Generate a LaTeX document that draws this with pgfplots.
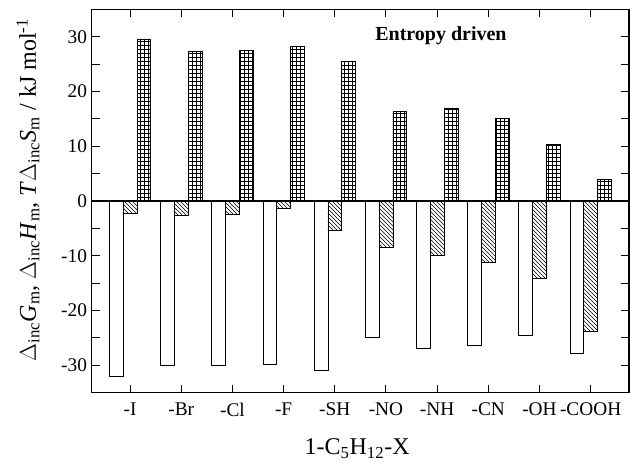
\documentclass[border=0pt]{standalone}
\usepackage{fontspec}
\setmainfont{Liberation Serif}
\usepackage{pgfplots}
\pgfplotsset{compat=1.18}
\usetikzlibrary{patterns}

\pgfplotstableread{
x   G      H      TS
1   -32.0  -2.2   29.6
2   -30.0  -2.6   27.3
3   -30.0  -2.5   27.5
4   -29.8  -1.4   28.2
5   -31.0  -5.4   25.5
6   -24.9  -8.5   16.3
7   -26.9  -10.0  17.0
8   -26.4  -11.2  15.1
9   -24.5  -14.1  10.3
10  -27.9  -23.8  3.9
}\thermo

\begin{document}
\begin{tikzpicture}
\begin{axis}[
    scale only axis,
    width=403pt, height=287.5pt,
    xmin=0.25, xmax=10.75,
    ymin=-35, ymax=35,
    ybar, bar width=0.27,
    axis line style={line width=0.9pt},
    xtick={1,...,10},
    xticklabels={-I,-Br,-Cl,-F,-SH,-NO,-NH,-CN,-OH,-COOH},
    ytick={-30,-20,...,30},
    yticklabels={-30,-20,-10,0,10,20,30},
    minor ytick={-25,-15,-5,5,15,25},
    tick align=inside,
    major tick length=6pt, minor tick length=6pt,
    tick style={black, line width=0.7pt},
    ticklabel style={font=\fontsize{14.5}{16}\selectfont},
    xticklabel style={yshift=-4pt},
    xlabel={1-C\textsubscript{5}H\textsubscript{12}-X},
    xlabel style={font=\fontsize{18}{20}\selectfont, at={(axis description cs:0.494,-0.108)}, anchor=north},
    ylabel={$\Delta$\textsubscript{inc}\textit{G}\textsubscript{m}, $\Delta$\textsubscript{inc}\textit{H}\textsubscript{m}, \textit{T}$\Delta$\textsubscript{inc}\textit{S}\textsubscript{m} / kJ mol\textsuperscript{-1}},
    ylabel style={font=\fontsize{18}{20}\selectfont, at={(axis description cs:-0.1186,0.529)}, anchor=center},
]
\addplot[bar shift=-0.27, draw=black, line width=0.5pt, fill=white] table[x=x, y=G] {\thermo};
\addplot[bar shift=0, draw=black, line width=0.5pt, pattern=north west lines, pattern color=black] table[x=x, y=H] {\thermo};
\addplot[bar shift=0.27, draw=black, line width=0.5pt, pattern=grid, pattern color=black] table[x=x, y=TS] {\thermo};
\draw[black, line width=0.8pt] (axis cs:0.25,0) -- (axis cs:10.75,0);
\node[anchor=west, font=\fontsize{15}{17}\selectfont\bfseries] at (axis cs:5.7,30.2) {Entropy driven};
\end{axis}
\pgfresetboundingbox
\path ([shift={(-68.8pt,-54.2pt)}]current axis.south west) rectangle ([shift={(0.75pt,7pt)}]current axis.north east);
\end{tikzpicture}
\end{document}
